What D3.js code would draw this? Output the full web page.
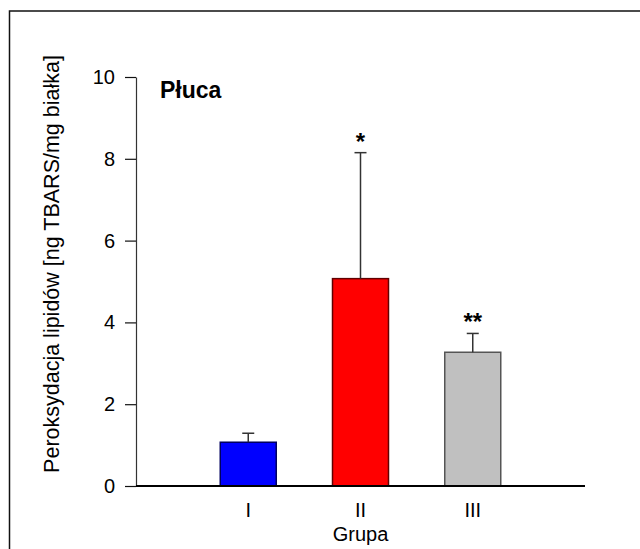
<!DOCTYPE html>
<html>
<head>
<meta charset="utf-8">
<script src="https://cdn.jsdelivr.net/npm/d3@7"></script>
<style>
  body { margin: 0; background: #fff; }
  text { font-family: Arial, "Liberation Sans", sans-serif; }
</style>
</head>
<body>
<script>
// dane
const groups = ["I", "II", "III"];
const means = [1.07, 5.07, 3.27];
const errors = [0.22, 3.08, 0.46];
const marks = ["", "*", "**"];
const barColors = ["#0000ff", "#ff0000", "#c0c0c0"];
const barStrokes = ["#000060", "#600000", "#555555"];
const yTicks = [0, 2, 4, 6, 8, 10];

const width = 640;
const height = 549;

const svg = d3.select("body").append("svg").attr("width", width).attr("height", height);

// ramka (ucięta z prawej i od dołu)
svg.append("rect")
  .attr("x", 9.5).attr("y", 11)
  .attr("width", 700).attr("height", 700)
  .attr("fill", "none").attr("stroke", "#111").attr("stroke-width", 1.5);

/** skale: 4 odstępy, grupy na pozycjach 1..3 */
const xScale = d3.scaleLinear().domain([0, 4]).range([136, 585]);
const yScale = d3.scaleLinear().domain([0, 10]).range([486, 77]);
const barWidth = 56;

/** oś y */
const axisy = d3.axisLeft(yScale).tickValues(yTicks).tickSize(11).tickPadding(10).tickSizeOuter(0);
const gy = svg.append("g").attr("transform", "translate(136,0)").call(axisy);
gy.select(".domain").attr("stroke", "#333").attr("stroke-width", 1.2);
gy.selectAll(".tick line").attr("stroke", "#111").attr("stroke-width", 1.2);
gy.selectAll(".tick text").attr("font-size", 20).attr("fill", "#000")
  .attr("font-family", "Arial, 'Liberation Sans', sans-serif");

/** słupki */
svg.append("g").selectAll("rect")
  .data(means)
  .enter()
  .append("rect")
  .attr("x", (d, i) => xScale(i + 1) - barWidth / 2)
  .attr("y", d => yScale(d))
  .attr("width", barWidth)
  .attr("height", d => yScale(0) - yScale(d))
  .attr("fill", (d, i) => barColors[i])
  .attr("stroke", (d, i) => barStrokes[i])
  .attr("stroke-width", 1.5);

/** słupki błędów */
const eb = svg.append("g").attr("stroke", "#333").attr("stroke-width", 1.5);
means.forEach((m, i) => {
  const cx = xScale(i + 1);
  eb.append("line").attr("x1", cx).attr("x2", cx)
    .attr("y1", yScale(m)).attr("y2", yScale(m + errors[i]));
  eb.append("line").attr("x1", cx - 6).attr("x2", cx + 6)
    .attr("y1", yScale(m + errors[i])).attr("y2", yScale(m + errors[i]));
});

/** gwiazdki istotności */
svg.append("g").selectAll("text")
  .data(marks)
  .enter()
  .append("text")
  .attr("x", (d, i) => xScale(i + 1))
  .attr("y", (d, i) => yScale(means[i] + errors[i]) - 3)
  .attr("text-anchor", "middle")
  .attr("font-size", 24)
  .attr("font-weight", "bold")
  .text(d => d);

/** oś x */
svg.append("line")
  .attr("x1", xScale(0)).attr("x2", xScale(4))
  .attr("y1", yScale(0)).attr("y2", yScale(0))
  .attr("stroke", "#000").attr("stroke-width", 1.8);

svg.append("g").selectAll("text")
  .data(groups)
  .enter()
  .append("text")
  .attr("x", (d, i) => xScale(i + 1))
  .attr("y", 517)
  .attr("text-anchor", "middle")
  .attr("font-size", 20)
  .text(d => d);

svg.append("text")
  .attr("x", xScale(2)).attr("y", 541)
  .attr("text-anchor", "middle")
  .attr("font-size", 20)
  .text("Grupa");

svg.append("text")
  .attr("transform", "translate(59,264) rotate(-90)")
  .attr("text-anchor", "middle")
  .attr("font-size", 21.5)
  .text("Peroksydacja lipidów [ng TBARS/mg białka]");

svg.append("text")
  .attr("x", 160).attr("y", 98)
  .attr("font-size", 23)
  .attr("font-weight", "bold")
  .text("Płuca");
</script>
</body>
</html>
